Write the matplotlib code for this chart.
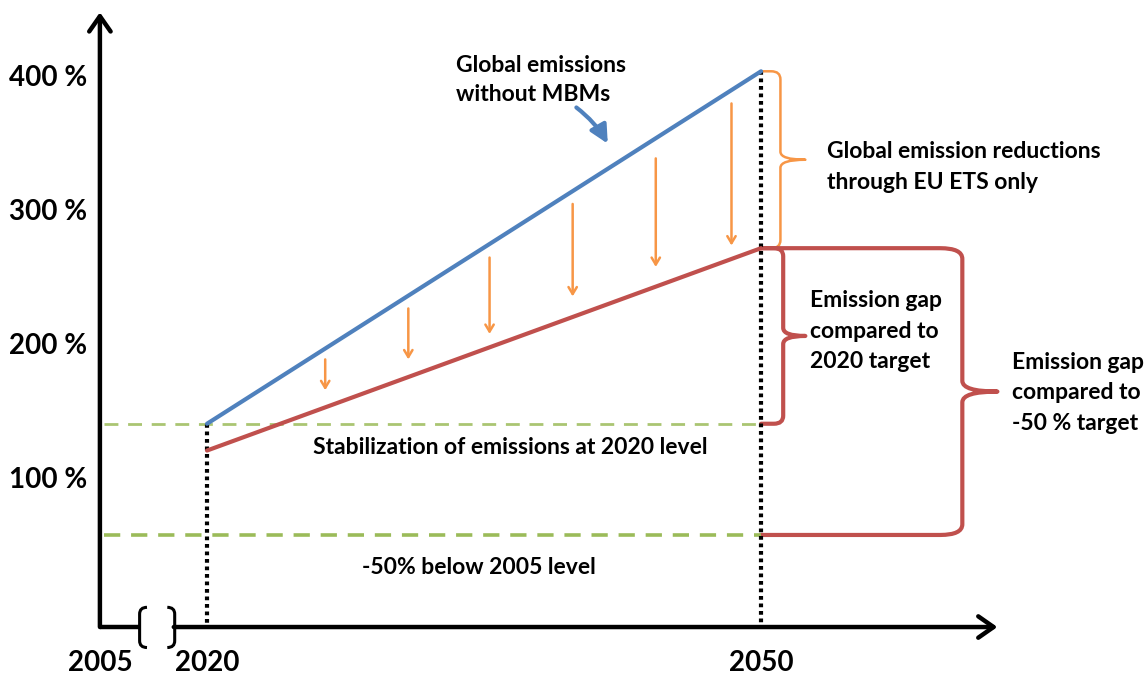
import matplotlib.pyplot as plt
from matplotlib.path import Path
from matplotlib.patches import PathPatch

plt.rcParams['font.family'] = ['Lato', 'DejaVu Sans']

# schematic values (emissions relative to 2005, %)
years = [2020, 2050]
no_mbm = [142, 405]         # global emissions without MBMs
eu_ets_only = [122, 273]    # with reductions through EU ETS only
stab_level = 142            # stabilization at 2020 level
target_level = 59           # -50% below 2005 level

y_ticks = [100, 200, 300, 400]
y_tick_labels = ['100 %', '200 %', '300 %', '400 %']
x_label_years = [2014.2, 2020, 2050]
x_labels = ['2005', '2020', '2050']

# orange reduction arrows
arrow_years = [2026.4, 2030.9, 2035.3, 2039.8, 2044.3, 2048.4]
arrow_top = [190, 228, 266, 306, 340, 381]
arrow_bottom = [167, 190, 209, 237, 259, 275]

blue = '#4F81BD'
red = '#C0504D'
orange = '#F79646'
green = '#9BBB59'

x0 = 2014.2       # origin of the schematic axes
y0 = -9.7

fig = plt.figure(figsize=(11.47, 6.75), dpi=100)
ax = fig.add_axes([0, 0, 1, 1])
ax.set_xlim(2008.79, 2070.9)
ax.set_ylim(-45.5, 458.2)
ax.axis('off')


def brace(ax, x_arm, x_spine, x_tip, y_top, y_bot, color, lw, dx=0.5, dy=6):
    y_mid = (y_top + y_bot) / 2
    verts = [(x_arm, y_top), (x_spine - dx, y_top),
             (x_spine, y_top), (x_spine, y_top - dy),
             (x_spine, y_mid + dy),
             (x_spine, y_mid), (x_tip, y_mid),
             (x_spine, y_mid), (x_spine, y_mid - dy),
             (x_spine, y_bot + dy),
             (x_spine, y_bot), (x_spine - dx, y_bot),
             (x_arm, y_bot)]
    codes = [Path.MOVETO, Path.LINETO,
             Path.CURVE3, Path.CURVE3,
             Path.LINETO,
             Path.CURVE3, Path.CURVE3,
             Path.CURVE3, Path.CURVE3,
             Path.LINETO,
             Path.CURVE3, Path.CURVE3,
             Path.LINETO]
    ax.add_patch(PathPatch(Path(verts, codes), fill=False, edgecolor=color,
                           lw=lw, capstyle='round', joinstyle='round'))


# reference levels
ax.plot([x0 + 0.2, years[1]], [stab_level, stab_level], color=green, lw=2,
        dashes=(5, 3.5), alpha=0.85)
ax.plot([x0 + 0.2, years[1]], [target_level, target_level], color=green, lw=2.6,
        dashes=(4.5, 3))

# vertical dotted markers
ax.plot([years[0], years[0]], [stab_level, y0 + 3], color='black', lw=3,
        dashes=(0.9, 0.9))
ax.plot([years[1], years[1]], [no_mbm[1], y0], color='black', lw=3,
        dashes=(0.9, 0.9))

# emission paths
ax.plot(years, no_mbm, color=blue, lw=3, solid_capstyle='round')
ax.plot(years, eu_ets_only, color=red, lw=3, solid_capstyle='round')

for xa, yt, yb in zip(arrow_years, arrow_top, arrow_bottom):
    ax.annotate('', xy=(xa, yb), xytext=(xa, yt),
                arrowprops=dict(arrowstyle='->,head_length=0.5,head_width=0.3',
                                color=orange, lw=1.8, shrinkA=0, shrinkB=0))

# axes with arrows and break
ax.annotate('', xy=(x0, 449), xytext=(x0, y0),
            arrowprops=dict(arrowstyle='->,head_length=0.5,head_width=0.35',
                            color='black', lw=3.2, shrinkA=0, shrinkB=0,
                            mutation_scale=22))
ax.plot([x0, 2016.4], [y0, y0], color='black', lw=3.2, solid_capstyle='butt')
ax.annotate('', xy=(2062.8, y0), xytext=(2018.2, y0),
            arrowprops=dict(arrowstyle='->,head_length=0.5,head_width=0.35',
                            color='black', lw=3.2, shrinkA=0, shrinkB=0,
                            mutation_scale=22))
for xo, xi in [(2016.75, 2016.35), (2017.85, 2018.25)]:
    verts = [(xo, 5), (xi, 5), (xi, 0), (xi, -20), (xi, -25), (xo, -25)]
    codes = [Path.MOVETO, Path.CURVE3, Path.CURVE3, Path.LINETO,
             Path.CURVE3, Path.CURVE3]
    ax.add_patch(PathPatch(Path(verts, codes), fill=False, edgecolor='black', lw=2.2))

for yv, lab in zip(y_ticks, y_tick_labels):
    ax.text(2013.5, yv, lab, ha='right', va='center', fontsize=20, fontweight='bold')
for xv, lab in zip(x_label_years, x_labels):
    ax.text(xv, -36.6, lab, ha='center', va='center', fontsize=20, fontweight='bold')

# braces
brace(ax, years[1], 2051.05, 2052.4, no_mbm[1], eu_ets_only[1], orange, 1.8)
brace(ax, years[1], 2051.2, 2052.4, eu_ets_only[1], stab_level, red, 3)
brace(ax, years[1], 2060.9, 2062.8, eu_ets_only[1], target_level, red, 3,
      dx=1.2, dy=8)

# labels
ax.text(2033.5, 398.5, 'Global emissions\nwithout MBMs', ha='left', va='center',
        fontsize=16.5, fontweight='bold', linespacing=1.5)
ax.annotate('', xy=(2041.7, 351), xytext=(2040.0, 378),
            arrowprops=dict(arrowstyle='-|>,head_length=0.6,head_width=0.3',
                            color=blue, lw=3, shrinkA=0, shrinkB=0,
                            connectionstyle='arc3,rad=-0.1', mutation_scale=18))
ax.text(2053.55, 333.5, 'Global emission reductions\nthrough EU ETS only',
        ha='left', va='center', fontsize=16.5, fontweight='bold', linespacing=1.57)
ax.text(2052.65, 211, 'Emission gap\ncompared to\n2020 target',
        ha='left', va='center', fontsize=16.5, fontweight='bold', linespacing=1.57)
ax.text(2063.6, 165, 'Emission gap\ncompared to\n-50 % target',
        ha='left', va='center', fontsize=16.5, fontweight='bold', linespacing=1.57)
ax.text(2036.4, 124.6, 'Stabilization of emissions at 2020 level',
        ha='center', va='center', fontsize=16.5, fontweight='bold')
ax.text(2034.7, 35, '-50% below 2005 level',
        ha='center', va='center', fontsize=16.5, fontweight='bold')

fig.savefig('out.png', dpi=100)
